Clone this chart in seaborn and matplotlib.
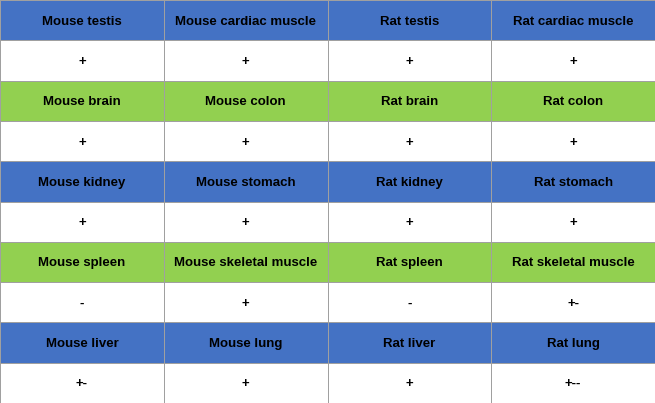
import numpy as np
import matplotlib
matplotlib.use("Agg")
import matplotlib.pyplot as plt
from matplotlib.colors import ListedColormap
import seaborn as sns

tissues = [
    ["Mouse testis", "Mouse cardiac muscle", "Rat testis", "Rat cardiac muscle"],
    ["Mouse brain", "Mouse colon", "Rat brain", "Rat colon"],
    ["Mouse kidney", "Mouse stomach", "Rat kidney", "Rat stomach"],
    ["Mouse spleen", "Mouse skeletal muscle", "Rat spleen", "Rat skeletal muscle"],
    ["Mouse liver", "Mouse lung", "Rat liver", "Rat lung"],
]
results = [
    ["+", "+", "+", "+"],
    ["+", "+", "+", "+"],
    ["+", "+", "+", "+"],
    ["-", "+", "-", "+-"],
    ["+-", "+", "+", "+--"],
]
header_colour = [1, 2, 1, 2, 1]  # 1 = blue, 2 = green

labels, codes = [], []
for names, res, c in zip(tissues, results, header_colour):
    labels += [names, res]
    codes += [[c] * 4, [0] * 4]
codes = np.array(codes)
labels = np.array(labels, dtype=object)

fig = plt.figure(figsize=(6.55, 4.03), dpi=100)
ax = fig.add_axes([0, 0, 1, 1])
cmap = ListedColormap(["#FFFFFF", "#4472C4", "#92D050"])
sns.heatmap(codes, annot=labels, fmt="", cmap=cmap, vmin=-0.5, vmax=2.5,
            cbar=False, linewidths=0.6, linecolor="#A0A0A0", ax=ax,
            annot_kws={"fontsize": 9.5, "color": "black",
                       "fontfamily": "Liberation Sans", "fontweight": "bold"})
for t in ax.texts:
    t.set_va("center_baseline")
ax.set_xticks([])
ax.set_yticks([])
fig.savefig("out.png", dpi=100)
